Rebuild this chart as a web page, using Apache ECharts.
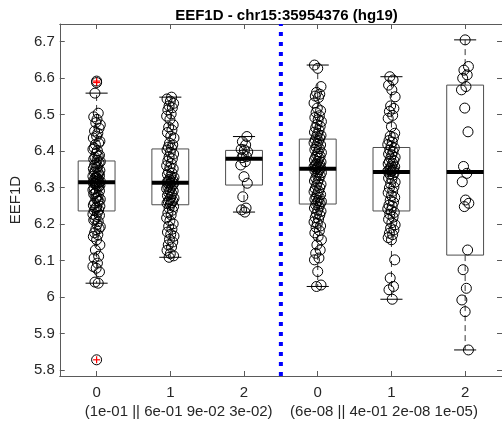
<!DOCTYPE html>
<html>
<head>
<meta charset="utf-8">
<script src="https://cdn.jsdelivr.net/npm/echarts@6/dist/echarts.min.js"></script>
<style>
html,body{margin:0;padding:0;background:#fff;}
#chart{width:502px;height:427px;}
</style>
</head>
<body>
<div id="chart"></div>
<script>
// ---- data ----
const groupPos = [1, 2, 3, 4, 5, 6];
const tickLabels = ['0', '1', '2', '0', '1', '2'];
const pvalueLabels = ['(1e-01 || 6e-01 9e-02 3e-02)', '(6e-08 || 4e-01 2e-08 1e-05)'];
const yTicks = [5.8, 5.9, 6.0, 6.1, 6.2, 6.3, 6.4, 6.5, 6.6, 6.7];

const g1 = [6.592, 6.588, 6.559, 6.504, 6.494, 6.487, 6.472, 6.478, 6.463, 6.455, 6.449, 6.436, 6.441, 6.427, 6.418, 6.422, 6.409, 6.401, 6.405, 6.394, 6.389, 6.383, 6.386, 6.378, 6.375,
  6.371, 6.366, 6.368, 6.361, 6.357, 6.352, 6.355, 6.347, 6.344, 6.339, 6.342, 6.335, 6.331, 6.328, 6.333, 6.325, 6.322, 6.319, 6.326, 6.317, 6.316, 6.314, 6.312, 6.318,
  6.313, 6.309, 6.306, 6.311, 6.302, 6.298, 6.304, 6.294, 6.289, 6.291, 6.284, 6.279, 6.282, 6.273, 6.268, 6.271, 6.262, 6.258, 6.264, 6.252, 6.247, 6.249, 6.243, 6.239, 6.237,
  6.232, 6.227, 6.221, 6.224, 6.214, 6.207, 6.211, 6.199, 6.193, 6.185, 6.188, 6.176, 6.171, 6.166, 6.157, 6.143, 6.129, 6.112, 6.107, 6.093, 6.084, 6.079, 6.069, 6.041, 6.038, 5.828];
const g2 = [6.548, 6.543, 6.537, 6.531, 6.524, 6.519, 6.513, 6.502, 6.496, 6.487, 6.472, 6.466, 6.458, 6.451, 6.441, 6.436, 6.422, 6.417, 6.411, 6.408,
  6.403, 6.397, 6.392, 6.384, 6.379, 6.373, 6.366, 6.36, 6.355, 6.352, 6.344, 6.34, 6.336, 6.331, 6.328, 6.323, 6.321, 6.318, 6.316, 6.314,
  6.312, 6.311, 6.309, 6.306, 6.303, 6.301, 6.297, 6.293, 6.291, 6.286, 6.283, 6.278, 6.274, 6.271, 6.267, 6.264, 6.262, 6.259, 6.257, 6.254,
  6.248, 6.244, 6.238, 6.231, 6.225, 6.217, 6.209, 6.201, 6.194, 6.186, 6.178, 6.172, 6.167, 6.158, 6.151, 6.143, 6.137, 6.128, 6.119, 6.113, 6.109];
const g3 = [6.44, 6.426, 6.417, 6.405, 6.403, 6.398, 6.39, 6.385, 6.382, 6.371, 6.362, 6.33, 6.312, 6.275, 6.244, 6.239, 6.233];
const g4 = [6.636, 6.627, 6.577, 6.561, 6.556, 6.551, 6.547, 6.532, 6.518, 6.511, 6.506, 6.497, 6.492, 6.486, 6.481, 6.473, 6.468, 6.464, 6.457, 6.452, 6.448, 6.443, 6.44, 6.436,
  6.431, 6.428, 6.423, 6.419, 6.417, 6.411, 6.407, 6.404, 6.398, 6.396, 6.39, 6.386, 6.383, 6.381, 6.376, 6.372, 6.37, 6.366, 6.363, 6.361, 6.358, 6.357, 6.355, 6.354, 6.352,
  6.349, 6.347, 6.343, 6.341, 6.336, 6.333, 6.326, 6.324, 6.318, 6.315, 6.309, 6.306, 6.3, 6.297, 6.291, 6.289, 6.283, 6.281, 6.275, 6.273, 6.268, 6.264, 6.262, 6.259, 6.256,
  6.253, 6.247, 6.244, 6.238, 6.235, 6.228, 6.225, 6.218, 6.214, 6.206, 6.202, 6.195, 6.191, 6.182, 6.176, 6.166, 6.157, 6.143, 6.129, 6.12, 6.107, 6.102, 6.07, 6.033, 6.029];
const g5 = [6.604, 6.595, 6.581, 6.568, 6.549, 6.524, 6.517, 6.509, 6.498, 6.49, 6.467, 6.449, 6.441, 6.437, 6.429, 6.425, 6.418, 6.413,
  6.409, 6.403, 6.399, 6.392, 6.39, 6.383, 6.381, 6.374, 6.372, 6.367, 6.365, 6.359, 6.357, 6.353, 6.351, 6.349, 6.346, 6.345, 6.344,
  6.342, 6.337, 6.334, 6.326, 6.323, 6.315, 6.311, 6.302, 6.299, 6.29, 6.286, 6.278, 6.273, 6.265, 6.26, 6.252, 6.249, 6.242, 6.238,
  6.232, 6.227, 6.219, 6.213, 6.204, 6.198, 6.189, 6.184, 6.175, 6.171, 6.163, 6.157, 6.102, 6.052, 6.029, 6.02, 5.994];
const g6 = [6.705, 6.632, 6.622, 6.609, 6.6, 6.577, 6.568, 6.518, 6.453, 6.358, 6.339, 6.316, 6.266, 6.257, 6.248, 6.129, 6.075, 6.024, 5.992, 5.96, 5.855];

const whiskerLow  = [6.038, 6.109, 6.233, 6.029, 5.994, 5.855];
const boxQ1       = [6.236, 6.253, 6.307, 6.255, 6.236, 6.115];
const boxMedian   = [6.315, 6.313, 6.379, 6.352, 6.343, 6.343];
const boxQ3       = [6.373, 6.406, 6.402, 6.433, 6.410, 6.581];
const whiskerHigh = [6.559, 6.548, 6.440, 6.636, 6.604, 6.705];

const outlierGroup = [1, 1, 1];
const outlierValue = [6.592, 6.588, 5.828];

// ---- build ----
const groups = [g1, g2, g3, g4, g5, g6];
const Y_MIN = 5.7836, Y_MAX = 6.7485;
function jitter(i, g, v) {
  if (v > whiskerHigh[g] || v < whiskerLow[g]) return 0; // outliers sit on the group centre
  return ((((i + 1) * 7 + g * 13) * 31) % 19 - 9) / 9 * 0.05;
}
const scatterData = [];
groups.forEach((arr, g) => {
  arr.forEach((v, i) => scatterData.push([groupPos[g] + jitter(i, g, v), v]));
});
const boxData = groupPos.map((p, i) => [p, whiskerLow[i], boxQ1[i], boxMedian[i], boxQ3[i], whiskerHigh[i]]);
const outlierData = outlierGroup.map((g, i) => [g, outlierValue[i]]);

const FONT = 'Liberation Sans';
const AXC = '#5a5a5a';
const chart = echarts.init(document.getElementById('chart'), null, { renderer: 'canvas' });

function renderBox(params, api) {
  const x = api.value(0);
  const lo = api.value(1), q1 = api.value(2), md = api.value(3), q3 = api.value(4), hi = api.value(5);
  const half = 0.25, cap = 0.15;
  const pLo = api.coord([x, lo]), pQ1 = api.coord([x, q1]), pMd = api.coord([x, md]);
  const pQ3 = api.coord([x, q3]), pHi = api.coord([x, hi]);
  const bl = api.coord([x - half, q1])[0], br = api.coord([x + half, q1])[0];
  const cl = api.coord([x - cap, q1])[0], cr = api.coord([x + cap, q1])[0];
  const ln = (x1, y1, x2, y2, style) => ({ type: 'line', shape: { x1, y1, x2, y2 }, style });
  const dash = { stroke: '#000', lineWidth: 0.8, lineDash: [6, 4] };
  const solid = { stroke: '#000', lineWidth: 1 };
  return {
    type: 'group',
    children: [
      ln(pQ3[0], pQ3[1], pHi[0], pHi[1], dash),
      ln(pQ1[0], pQ1[1], pLo[0], pLo[1], dash),
      ln(cl, pHi[1], cr, pHi[1], solid),
      ln(cl, pLo[1], cr, pLo[1], solid),
      { type: 'rect', shape: { x: bl, y: pQ3[1], width: br - bl, height: pQ1[1] - pQ3[1] },
        style: { fill: 'none', stroke: '#4d4d4d', lineWidth: 1 } },
      ln(bl, pMd[1], br, pMd[1], { stroke: '#000', lineWidth: 4 })
    ]
  };
}
function renderOutlier(params, api) {
  const p = api.coord([api.value(0), api.value(1)]);
  const r = 3.5;
  return {
    type: 'group',
    children: [
      { type: 'line', shape: { x1: p[0] - r, y1: p[1], x2: p[0] + r, y2: p[1] }, style: { stroke: '#ff0000', lineWidth: 1.2 } },
      { type: 'line', shape: { x1: p[0], y1: p[1] - r, x2: p[0], y2: p[1] + r }, style: { stroke: '#ff0000', lineWidth: 1.2 } }
    ]
  };
}

const xAxisCommon = {
  type: 'value', min: 0.5, max: 6.5,
  splitLine: { show: false },
  axisLine: { show: true, onZero: false, lineStyle: { color: AXC, width: 1 } },
  axisTick: { show: true, inside: true, length: 5, customValues: groupPos, lineStyle: { color: AXC } }
};
const yAxisCommon = {
  type: 'value', min: Y_MIN, max: Y_MAX,
  splitLine: { show: false },
  axisLine: { show: true, lineStyle: { color: AXC, width: 1 } },
  axisTick: { show: true, inside: true, length: 5, customValues: yTicks, lineStyle: { color: AXC } }
};

chart.setOption({
  animation: false,
  backgroundColor: '#fff',
  title: {
    text: 'EEF1D - chr15:35954376 (hg19)',
    left: 281.5, top: 3, textAlign: 'center',
    textStyle: { fontFamily: FONT, fontSize: 15, fontWeight: 'bold', color: '#000' }
  },
  grid: { left: 58.3, top: 24, width: 446.6, height: 352, containLabel: false },
  xAxis: [
    Object.assign({}, xAxisCommon, {
      position: 'bottom',
      axisLabel: {
        show: true, customValues: groupPos, margin: 9,
        fontFamily: FONT, fontSize: 15, color: '#262626',
        formatter: (v) => tickLabels[Math.round(v) - 1]
      }
    }),
    Object.assign({}, xAxisCommon, { position: 'top', axisLabel: { show: false } })
  ],
  yAxis: [
    Object.assign({}, yAxisCommon, {
      position: 'left',
      name: 'EEF1D', nameLocation: 'middle', nameGap: 33, nameRotate: 90,
      nameTextStyle: { fontFamily: FONT, fontSize: 15, color: '#262626' },
      axisLabel: { show: true, customValues: yTicks, margin: 5, fontFamily: FONT, fontSize: 15, color: '#262626',
        formatter: (v) => String(Math.round(v * 10) / 10) }
    }),
    Object.assign({}, yAxisCommon, { position: 'right', axisLabel: { show: false } })
  ],
  graphic: [
    { type: 'text', x: 178.6, y: 411.7, style: { text: pvalueLabels[0], font: '15px "Liberation Sans"', fill: '#262626', textAlign: 'center', textVerticalAlign: 'middle' } },
    { type: 'text', x: 384, y: 411.7, style: { text: pvalueLabels[1], font: '15px "Liberation Sans"', fill: '#262626', textAlign: 'center', textVerticalAlign: 'middle' } }
  ],
  series: [
    {
      type: 'line', xAxisIndex: 0, yAxisIndex: 0,
      data: [[3.5, Y_MIN], [3.5, Y_MAX]],
      symbol: 'none', silent: true,
      lineStyle: { color: '#0000ff', width: 4, type: [4, 6] },
      z: 2
    },
    {
      type: 'custom', xAxisIndex: 0, yAxisIndex: 0,
      renderItem: renderBox, data: boxData, z: 3, silent: true
    },
    {
      type: 'custom', xAxisIndex: 0, yAxisIndex: 0,
      renderItem: renderOutlier, data: outlierData, z: 4, silent: true
    },
    {
      type: 'scatter', xAxisIndex: 0, yAxisIndex: 0,
      data: scatterData, symbol: 'circle', symbolSize: 10,
      itemStyle: { color: 'rgba(0,0,0,0)', borderColor: '#000', borderWidth: 1, opacity: 1 },
      z: 5, silent: true
    }
  ]
});
</script>
</body>
</html>
